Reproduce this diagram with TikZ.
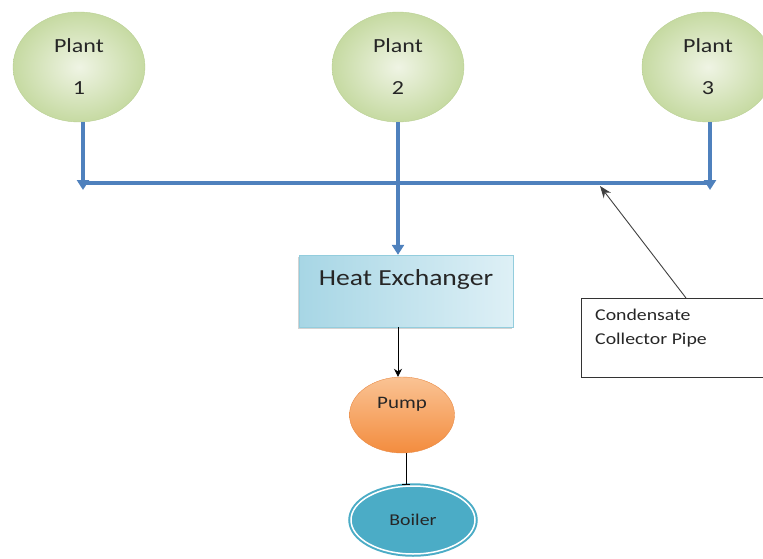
\documentclass[tikz,border=0pt]{standalone}
\usepackage{fontspec}
\setmainfont[FakeStretch=1.2]{Carlito}
\usepackage{tikz}
\usetikzlibrary{arrows.meta,shapes.geometric,shadows}
\definecolor{pipeblue}{HTML}{4F81BD}
\definecolor{plantin}{HTML}{EFF4E4}
\definecolor{plantout}{HTML}{C6DAA2}
\definecolor{plantline}{HTML}{B9CF93}
\definecolor{hxdark}{HTML}{A7D6E5}
\definecolor{hxlight}{HTML}{DEF0F6}
\definecolor{hxline}{HTML}{93CDDD}
\definecolor{pumptop}{HTML}{FAC394}
\definecolor{pumpbot}{HTML}{F38C3E}
\definecolor{pumpline}{HTML}{E88A45}
\definecolor{boilerblue}{HTML}{4BACC6}
\tikzset{
    %Define style for plants
    plant/.style={
           ellipse,
           draw=plantline, thin,
           minimum width=132pt,
           minimum height=110pt,
           shading=radial, inner color=plantin, outer color=plantout,
           font=\fontsize{20}{24}\selectfont,
           text=black!85,
           align=center},
    %Define style for the exchanger
    exchanger/.style={
           rectangle,
           draw=hxline, thin,
           minimum width=214pt,
           inner sep=0pt,
           text height=30pt,
           text depth=42pt,
           left color=hxdark, right color=hxlight,
           drop shadow={shadow xshift=-1.5pt, shadow yshift=-2pt, opacity=0.35},
           font=\fontsize{23}{28}\selectfont,
           text=black!85},
    pumpnode/.style={
           ellipse,
           draw=pumpline, thin,
           minimum width=105pt,
           minimum height=76pt,
           inner sep=0pt,
           text height=12pt,
           text depth=25pt,
           top color=pumptop, bottom color=pumpbot,
           font=\fontsize{17.5}{21}\selectfont,
           text=black!85},
    boilernode/.style={
           ellipse,
           fill=boilerblue,
           draw=boilerblue, line width=2pt,
           double=white, double distance=1.5pt,
           minimum width=124pt,
           minimum height=68pt,
           font=\fontsize{16.5}{20}\selectfont,
           text=black!85},
    notebox/.style={
           rectangle,
           draw=black!80, thin,
           minimum width=190pt,
           minimum height=79pt},
    notetext/.style={
           inner sep=0pt,
           align=left,
           font=\fontsize{16.5}{24}\selectfont,
           text=black!85},
    % Define arrow styles
    pipe/.style={draw=pipeblue, line width=3.2pt},
    pipearrow/.style={pipe, -{Triangle[length=10pt,width=12pt]}},
    flow/.style={draw=black, line width=0.8pt, -{Stealth[length=8pt,width=8pt]}},
    feed/.style={draw=black, line width=0.8pt, -{Bar[width=8pt,line width=0.8pt]}},
    pointer/.style={draw=black!75, line width=0.9pt, -{Stealth[length=12pt,width=9pt]}}
}
\begin{document}
\begin{tikzpicture}[x=1pt,y=-1pt]
\useasboundingbox (0,0) rectangle (763,559);

 %nodes
\node[plant] (1) at (79,67) {Plant\\[18pt]1};
\node[plant] (2) at (398,67) {Plant\\[18pt]2};
\node[plant] (3) at (708,67) {Plant\\[18pt]3};
\node[exchanger] (hx) at (406,291) {Heat Exchanger};
\node[pumpnode] (pump) at (402,415) {Pump};
\node[boilernode] (boiler) at (413,520) {Boiler};
\node[notebox, anchor=north west] (box) at (581,298) {};
\node[notetext, anchor=north west] (note) at ([xshift=14pt,yshift=-11pt]box.north west) {Condensate\\Collector Pipe};

 %pipe
\coordinate (j1) at (83,190);
\coordinate (j3) at (710,190);
\coordinate (pl) at (81.5,183);
\coordinate (pr) at (711.5,183);
\coordinate (tap) at (600,186);
\coordinate (pb) at ([xshift=4pt]pump.south);

 %connectors
\draw[pipe] (pl) -- (pr);
\draw[pipearrow] ([xshift=4pt]1.south) -- (j1);
\draw[pipearrow] ([xshift=2pt]3.south) -- (j3);
\draw[pipearrow] (2.south) -- (2.south |- hx.north);
\draw[flow] (2.south |- hx.south) -- (2.south |- pump.north);
\draw[feed] (pb) -- (pb |- boiler.north);
\draw[pointer] ([xshift=105pt]box.north west) -- (tap);
\end{tikzpicture}
\end{document}
